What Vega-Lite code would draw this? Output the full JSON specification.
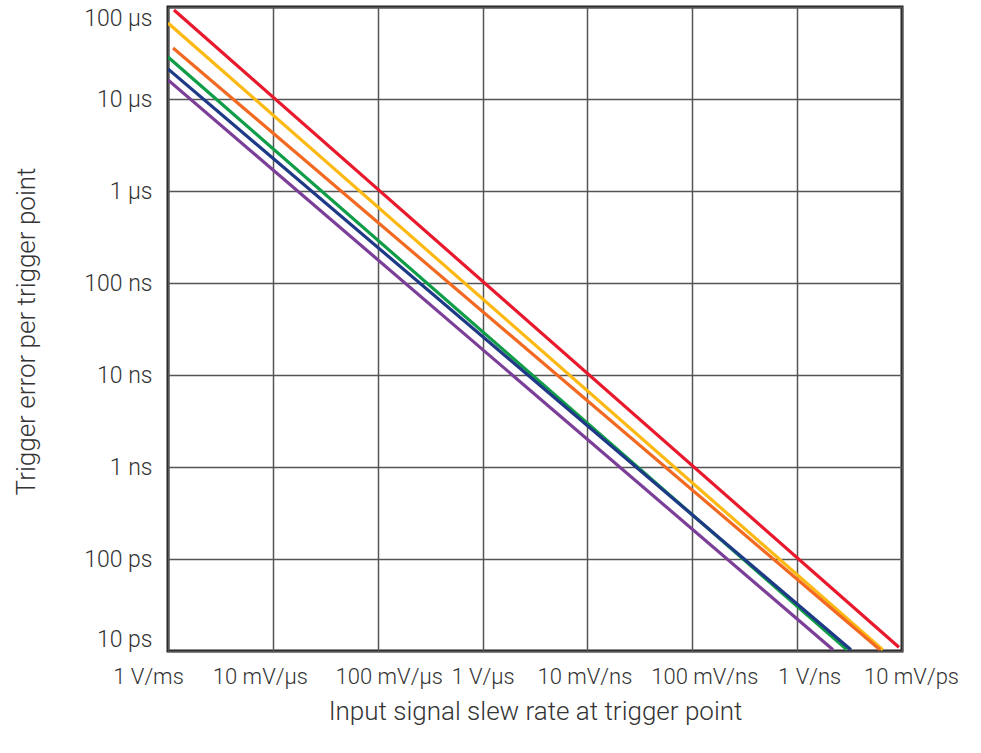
{
  "$schema": "https://vega.github.io/schema/vega-lite/v6.json",
  "width": 734,
  "height": 644,
  "autosize": {"type": "none"},
  "padding": {"left": 168, "top": 7, "right": 79, "bottom": 102},
  "background": "white",
  "config": {"view": {"stroke": "#231f20", "strokeWidth": 3}, "font": "Roboto"},
  "data": {
    "values": [
      {"series": "Red", "slew": 1140, "error": 9.27e-5},
      {"series": "Red", "slew": 9.35e9, "error": 1.10e-11},
      {"series": "Yellow", "slew": 1000, "error": 6.70e-5},
      {"series": "Yellow", "slew": 6.55e9, "error": 1.03e-11},
      {"series": "Orange", "slew": 1117, "error": 3.58e-5},
      {"series": "Orange", "slew": 6.17e9, "error": 1.03e-11},
      {"series": "Green", "slew": 1000, "error": 2.86e-5},
      {"series": "Green", "slew": 2.99e9, "error": 1.03e-11},
      {"series": "Navy", "slew": 1000, "error": 2.12e-5},
      {"series": "Navy", "slew": 3.26e9, "error": 1.03e-11},
      {"series": "Purple", "slew": 1000, "error": 1.61e-5},
      {"series": "Purple", "slew": 2.20e9, "error": 1.03e-11}
    ]
  },
  "mark": {"type": "line", "strokeWidth": 3.2, "clip": true},
  "encoding": {
    "x": {
      "field": "slew",
      "type": "quantitative",
      "scale": {"type": "log", "domain": [1000, 10000000000], "nice": false},
      "axis": {
        "values": [1000, 10000, 100000, 1000000, 10000000, 100000000, 1000000000, 10000000000],
        "labelExpr": "['1 V/ms','10 mV/µs','100 mV/µs','1 V/µs','10 mV/ns','100 mV/ns','1 V/ns','10 mV/ps'][round(log(datum.value)/LN10)-3]",
        "grid": true, "gridColor": "#555555", "gridWidth": 1.5,
        "domain": false, "ticks": false,
        "labelPadding": 15, "labelFontSize": 22, "labelFont": "Roboto", "labelFontWeight": 300,
        "labelColor": "#333333", "labelFlush": false, "labelOverlap": false,
        "labelOffset": {
          "condition": [
            {"test": "datum.value < 5000", "value": -20},
            {"test": "datum.value < 50000", "value": -13},
            {"test": "datum.value < 500000", "value": 11},
            {"test": "datum.value < 5000000", "value": 0},
            {"test": "datum.value < 50000000", "value": -3},
            {"test": "datum.value < 500000000", "value": 12},
            {"test": "datum.value < 5000000000", "value": 12}
          ],
          "value": 9
        },
        "title": "Input signal slew rate at trigger point",
        "titleFontSize": 26, "titleFont": "Roboto", "titleFontWeight": 300, "titleColor": "#333333",
        "titleY": 60, "titleBaseline": "middle"
      }
    },
    "y": {
      "field": "error",
      "type": "quantitative",
      "scale": {"type": "log", "domain": [1e-11, 0.0001], "nice": false},
      "axis": {
        "values": [1e-11, 1e-10, 1e-9, 1e-8, 1e-7, 0.000001, 0.00001, 0.0001],
        "labelExpr": "['10 ps','100 ps','1 ns','10 ns','100 ns','1 µs','10 µs','100 µs'][round(log(datum.value)/LN10)+11]",
        "grid": true, "gridColor": "#555555", "gridWidth": 1.5,
        "domain": false, "ticks": false,
        "labelPadding": 16, "labelFontSize": 23, "labelFont": "Roboto", "labelFontWeight": 300,
        "labelColor": "#333333", "labelFlush": true, "labelOverlap": false,
        "title": "Trigger error per trigger point",
        "titleFontSize": 26, "titleFont": "Roboto", "titleFontWeight": 300, "titleColor": "#333333",
        "titleX": -142, "titleY": 324, "titleAngle": -90, "titleAlign": "center", "titleBaseline": "middle"
      }
    },
    "color": {
      "field": "series",
      "type": "nominal",
      "sort": ["Red", "Yellow", "Orange", "Green", "Navy", "Purple"],
      "scale": {
        "domain": ["Red", "Yellow", "Orange", "Green", "Navy", "Purple"],
        "range": ["#e8192c", "#fdb913", "#f26a22", "#0f9d48", "#1e3a87", "#7b3f98"]
      },
      "legend": null
    }
  }
}
